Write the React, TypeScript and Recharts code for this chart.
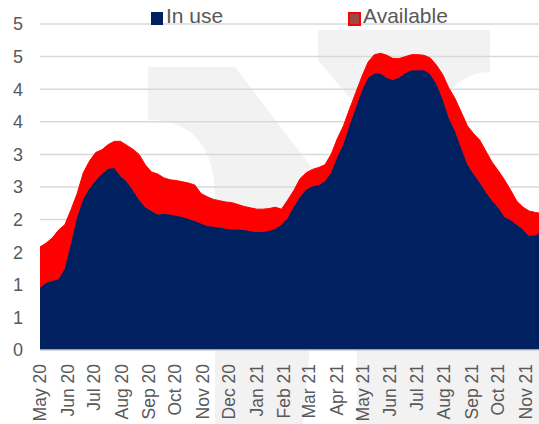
import React from 'react';
import { AreaChart, Area, XAxis, YAxis, CartesianGrid } from 'recharts';

// days since 1 May 2020, one reading per week
const days = [
  0, 7, 14, 21, 28, 35, 42, 49, 56, 63,
  70, 77, 84, 91, 98, 105, 112, 119, 126, 133,
  140, 147, 154, 161, 168, 175, 182, 189, 196, 203,
  210, 217, 224, 231, 238, 245, 252, 259, 266, 273,
  280, 287, 294, 301, 308, 315, 322, 329, 336, 343,
  350, 357, 364, 371, 378, 385, 392, 399, 406, 413,
  420, 427, 434, 441, 448, 455, 462, 469, 476, 483,
  490, 497, 504, 511, 518, 525, 532, 539, 546, 553,
  560, 564,
];

const inUse = [
  0.96, 1.03, 1.06, 1.09, 1.25, 1.63, 2.04, 2.32, 2.48, 2.60,
  2.70, 2.78, 2.79, 2.67, 2.58, 2.45, 2.30, 2.19, 2.13, 2.08,
  2.09, 2.08, 2.06, 2.04, 2.01, 1.98, 1.94, 1.90, 1.89, 1.88,
  1.86, 1.85, 1.85, 1.84, 1.82, 1.81, 1.81, 1.83, 1.86, 1.92,
  2.03, 2.20, 2.35, 2.46, 2.51, 2.53, 2.59, 2.72, 2.96, 3.16,
  3.45, 3.72, 3.98, 4.18, 4.24, 4.24, 4.17, 4.14, 4.18, 4.25,
  4.29, 4.29, 4.29, 4.23, 4.08, 3.85, 3.56, 3.36, 3.10, 2.85,
  2.70, 2.57, 2.42, 2.29, 2.18, 2.04, 1.99, 1.92, 1.85, 1.75,
  1.76, 1.79,
];

const available = [
  0.62, 0.61, 0.66, 0.75, 0.67, 0.52, 0.36, 0.40, 0.42, 0.43,
  0.37, 0.37, 0.41, 0.53, 0.56, 0.63, 0.70, 0.65, 0.60, 0.62,
  0.55, 0.53, 0.54, 0.54, 0.55, 0.55, 0.46, 0.45, 0.42, 0.41,
  0.41, 0.41, 0.38, 0.36, 0.36, 0.35, 0.35, 0.34, 0.33, 0.24,
  0.27, 0.25, 0.28, 0.26, 0.26, 0.27, 0.25, 0.28, 0.28, 0.28,
  0.25, 0.23, 0.22, 0.24, 0.29, 0.31, 0.35, 0.33, 0.29, 0.25,
  0.24, 0.24, 0.23, 0.25, 0.29, 0.38, 0.46, 0.50, 0.55, 0.59,
  0.62, 0.65, 0.63, 0.59, 0.57, 0.57, 0.46, 0.36, 0.34, 0.38,
  0.35, 0.31,
];

const monthStarts = [0, 31, 61, 92, 123, 153, 184, 214, 245, 276, 304, 335, 365, 396, 426, 457, 488, 518, 549];
const monthLabels = [
  'May 20', 'Jun 20', 'Jul 20', 'Aug 20', 'Sep 20', 'Oct 20', 'Nov 20', 'Dec 20', 'Jan 21', 'Feb 21',
  'Mar 21', 'Apr 21', 'May 21', 'Jun 21', 'Jul 21', 'Aug 21', 'Sep 21', 'Oct 21', 'Nov 21',
];
const yTicks = [0, 0.5, 1, 1.5, 2, 2.5, 3, 3.5, 4, 4.5, 5];

const data = days.map((d, i) => ({ day: d, inUse: inUse[i], available: available[i] }));

const FONT = '"Liberation Sans", Arial, sans-serif';
const TEXT = '#595959';
const WM = '#f3f2f3';

const MonthTick = (props: any) => {
  const { x, y, payload } = props;
  const label = monthLabels[monthStarts.indexOf(payload.value)];
  const ty = y + 6;
  return (
    <text x={x} y={ty} transform={`rotate(-90 ${x} ${ty})`} textAnchor="end" dy="0.35em"
      fill={TEXT} fontSize={17.5} fontFamily={FONT}>
      {label}
    </text>
  );
};

const ValueTick = (props: any) => {
  const { y, payload } = props;
  return (
    <text x={23} y={y} dy="0.35em" textAnchor="end" fill={TEXT} fontSize={18} fontFamily={FONT}>
      {Math.round(payload.value)}
    </text>
  );
};

export default function App() {
  return (
    <div style={{ position: 'absolute', left: 0, top: 0, width: 539, height: 424, background: '#fff', overflow: 'hidden' }}>
      {/* faint watermark behind the chart */}
      <svg width={539} height={424} style={{ position: 'absolute', left: 0, top: 0 }}>
        <path d="M148,67 L235,67 L325,185 L303,424 L215,424 L215,200 Q215,120 148,120 Z" fill={WM} />
        <path d="M318,30 L490,30 L490,72 Q455,72 440,110 L360,110 L318,60 Z" fill={WM} />
        <rect x={357} y={350} width={182} height={74} fill={WM} />
      </svg>

      <div style={{ position: 'absolute', left: 0, top: 0 }}>
        <AreaChart width={539} height={424} data={data} margin={{ top: 24, right: 0, bottom: 0, left: 0 }}>
          <CartesianGrid vertical={false} stroke="#d9d9d9" strokeWidth={1.5} />
          <XAxis dataKey="day" type="number" domain={[0, 564]} ticks={monthStarts} interval={0}
            height={74} tick={<MonthTick />} tickLine={false} axisLine={{ stroke: '#d0d0d0', strokeWidth: 1.5 }} />
          <YAxis type="number" domain={[0, 5]} ticks={yTicks} width={40} interval={0}
            tick={<ValueTick />} tickLine={false} axisLine={false} />
          <Area type="linear" dataKey="inUse" stackId="a" stroke="#002060" strokeWidth={1}
            fill="#002060" fillOpacity={1} isAnimationActive={false} />
          <Area type="linear" dataKey="available" stackId="a" stroke="#ff0000" strokeWidth={1}
            fill="#ff0000" fillOpacity={1} isAnimationActive={false} />
        </AreaChart>
      </div>

      {/* legend */}
      <div style={{ position: 'absolute', left: 151, top: 12, width: 12, height: 13, background: '#002060' }} />
      <div style={{ position: 'absolute', left: 166, top: 4, fontFamily: FONT, fontSize: 21, color: TEXT, lineHeight: '24px' }}>In use</div>
      <div style={{ position: 'absolute', left: 348, top: 12, width: 9, height: 10, background: '#a04848', border: '2px solid #ff0000' }} />
      <div style={{ position: 'absolute', left: 363, top: 4, fontFamily: FONT, fontSize: 21, color: TEXT, lineHeight: '24px' }}>Available</div>
    </div>
  );
}
